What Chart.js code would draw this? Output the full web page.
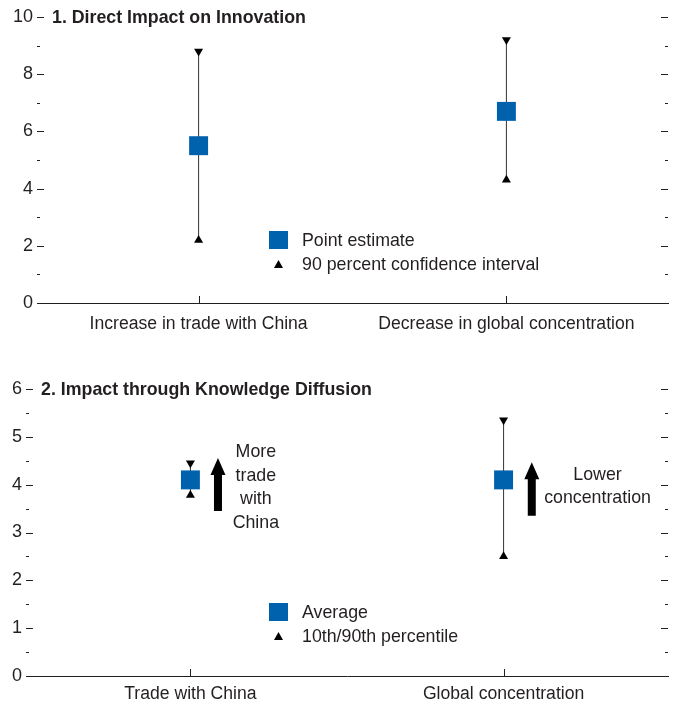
<!DOCTYPE html>
<html>
<head>
<meta charset="utf-8">
<script src="https://cdn.jsdelivr.net/npm/chart.js@4.4.1/dist/chart.umd.min.js"></script>
<style>
  html, body { margin: 0; padding: 0; background: #fff; }
  canvas { display: block; }
</style>
</head>
<body>
<canvas id="innovation" width="676" height="340"></canvas>
<canvas id="diffusion" width="676" height="368"></canvas>
<script>
// Panel 1: direct impact on innovation
const directCategories = ['Increase in trade with China', 'Decrease in global concentration'];
const directEstimate = [5.5, 6.7];
const directUpper = [8.8, 9.2];
const directLower = [2.2, 4.3];

// Panel 2: impact through knowledge diffusion
const diffusionCategories = ['Trade with China', 'Global concentration'];
const diffusionAverage = [4.1, 4.1];
const diffusionP90 = [4.45, 5.35];
const diffusionP10 = [3.78, 2.5];

const INK = '#231f20';
const BLUE = '#0061ad';
const FONT = '"Liberation Sans", Arial, sans-serif';

function line(ctx, x1, y1, x2, y2) {
  ctx.beginPath();
  ctx.moveTo(x1, y1);
  ctx.lineTo(x2, y2);
  ctx.stroke();
}

// inward tick marks, panel title, legend and arrow notes
const panelDecor = {
  id: 'panelDecor',
  afterDraw(chart, args, opts) {
    const { ctx, chartArea: a, scales: { x, y } } = chart;
    ctx.save();
    ctx.strokeStyle = INK;
    ctx.fillStyle = INK;
    ctx.lineWidth = 1;

    const n = Math.round((y.max - y.min) / opts.minorStep);
    for (let i = 0; i <= n; i++) {
      const v = y.min + i * opts.minorStep;
      const py = Math.round(y.getPixelForValue(v)) + 0.5;
      const r = v / opts.majorStep;
      const len = Math.abs(r - Math.round(r)) < 1e-6 ? 7 : 3;
      line(ctx, a.left, py, a.left + len, py);
      line(ctx, a.right - len, py, a.right, py);
    }
    x.ticks.forEach(t => {
      const px = Math.round(x.getPixelForValue(t.value)) + 0.5;
      line(ctx, px, a.bottom, px, a.bottom - 7);
    });

    ctx.textBaseline = 'middle';
    ctx.textAlign = 'left';
    ctx.font = 'bold 17.8px ' + FONT;
    ctx.fillText(opts.title, a.left + opts.titleInset, y.getPixelForValue(y.max) + 1);

    // legend
    const lx = a.left + opts.legendLeft;
    const ly = a.top + opts.legendTop;
    ctx.fillStyle = BLUE;
    ctx.fillRect(lx, ly - 9, 19, 18);
    ctx.fillStyle = '#000';
    ctx.beginPath();
    ctx.moveTo(lx + 9.5, ly + 20);
    ctx.lineTo(lx + 14, ly + 28);
    ctx.lineTo(lx + 5, ly + 28);
    ctx.closePath();
    ctx.fill();
    ctx.fillStyle = INK;
    ctx.font = '17.8px ' + FONT;
    ctx.fillText(opts.legend[0], lx + 33, ly + 1);
    ctx.fillText(opts.legend[1], lx + 33, ly + 25);

    // arrows with notes
    (opts.notes || []).forEach(nt => {
      const ax = x.getPixelForValue(nt.x);
      const top = y.getPixelForValue(nt.to);
      const bot = y.getPixelForValue(nt.from);
      ctx.fillStyle = '#000';
      ctx.beginPath();
      ctx.moveTo(ax, top);
      ctx.lineTo(ax + 7.5, top + 17);
      ctx.lineTo(ax + 4, top + 17);
      ctx.lineTo(ax + 4, bot);
      ctx.lineTo(ax - 4, bot);
      ctx.lineTo(ax - 4, top + 17);
      ctx.lineTo(ax - 7.5, top + 17);
      ctx.closePath();
      ctx.fill();
      ctx.fillStyle = INK;
      ctx.textAlign = 'center';
      const tx = x.getPixelForValue(nt.textX);
      const cy = y.getPixelForValue(nt.textY);
      const lh = 23.7;
      nt.text.forEach((s, i) => {
        ctx.fillText(s, tx, cy + (i - (nt.text.length - 1) / 2) * lh);
      });
    });
    ctx.restore();
  }
};

function buildDatasets(center, upper, lower) {
  const pts = arr => arr.map((v, i) => ({ x: i, y: v }));
  const sets = [
    { data: pts(center), pointStyle: 'rect', pointRadius: 13.4, backgroundColor: BLUE, borderWidth: 0 },
    { data: pts(upper), pointStyle: 'triangle', rotation: 180, pointRadius: 5.2, backgroundColor: '#000', borderWidth: 0 },
    { data: pts(lower), pointStyle: 'triangle', pointRadius: 5.2, backgroundColor: '#000', borderWidth: 0 }
  ];
  center.forEach((_, i) => {
    sets.push({
      data: [{ x: i, y: lower[i] }, { x: i, y: upper[i] }],
      showLine: true, borderColor: '#333', borderWidth: 1, pointRadius: 0
    });
  });
  sets.forEach(s => { s.clip = false; });
  return sets;
}

function makePanel(id, cfg) {
  return new Chart(document.getElementById(id), {
    type: 'scatter',
    data: { datasets: buildDatasets(cfg.center, cfg.upper, cfg.lower) },
    options: {
      responsive: false,
      animation: false,
      events: [],
      layout: {
        autoPadding: false,
        padding: { top: cfg.padTop, right: 8, left: 0, bottom: 0 }
      },
      plugins: {
        legend: { display: false },
        tooltip: { enabled: false },
        panelDecor: cfg.decor
      },
      scales: {
        x: {
          type: 'linear',
          min: -0.525,
          max: 1.525,
          afterBuildTicks: s => { s.ticks = [{ value: 0 }, { value: 1 }]; },
          afterFit: s => {
            s.height = cfg.xHeight;
            s.paddingLeft = 0;
            s.paddingRight = 0;
          },
          grid: { display: false },
          border: { display: true, color: INK, width: 1 },
          ticks: {
            padding: cfg.xPad,
            color: INK,
            font: { family: FONT, size: 17.6 },
            maxRotation: 0,
            callback: v => cfg.categories[v]
          }
        },
        y: {
          min: 0,
          max: cfg.yMax,
          afterFit: s => { s.width = cfg.yWidth; },
          grid: { display: false, drawTicks: false },
          border: { display: false },
          ticks: {
            stepSize: cfg.decor.majorStep,
            padding: 4,
            color: INK,
            font: { family: FONT, size: 18 },
            callback: v => v
          }
        }
      }
    },
    plugins: [panelDecor]
  });
}

makePanel('innovation', {
  categories: directCategories,
  center: directEstimate,
  upper: directUpper,
  lower: directLower,
  yMax: 10,
  padTop: 17,
  xHeight: 37,
  xPad: 3,
  yWidth: 37,
  decor: {
    majorStep: 2,
    minorStep: 1,
    title: '1. Direct Impact on Innovation',
    titleInset: 15,
    legendLeft: 232,
    legendTop: 223,
    legend: ['Point estimate', '90 percent confidence interval']
  }
});

makePanel('diffusion', {
  categories: diffusionCategories,
  center: diffusionAverage,
  upper: diffusionP90,
  lower: diffusionP10,
  yMax: 6,
  padTop: 49,
  xHeight: 32,
  xPad: 0,
  yWidth: 26,
  decor: {
    majorStep: 1,
    minorStep: 0.5,
    title: '2. Impact through Knowledge Diffusion',
    titleInset: 15,
    legendLeft: 243,
    legendTop: 223,
    legend: ['Average', '10th/90th percentile'],
    notes: [
      { x: 0.088, from: 3.45, to: 4.56, textX: 0.209, textY: 3.94, text: ['More', 'trade', 'with', 'China'] },
      { x: 1.09, from: 3.35, to: 4.47, textX: 1.30, textY: 3.96, text: ['Lower', 'concentration'] }
    ]
  }
});
</script>
</body>
</html>
